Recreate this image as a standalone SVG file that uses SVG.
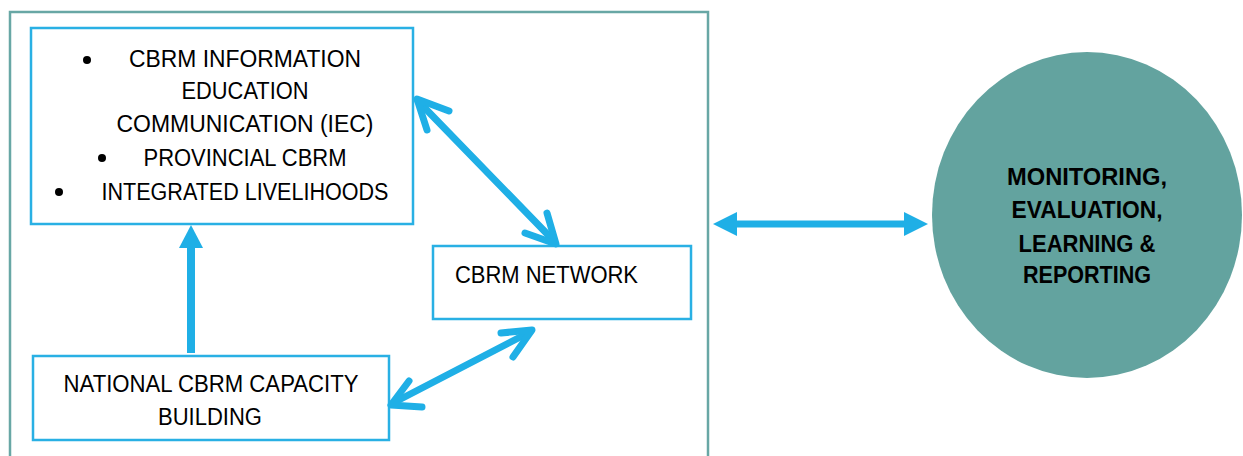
<svg xmlns="http://www.w3.org/2000/svg" width="1243" height="456" viewBox="0 0 1243 456">
<style>
.box{fill:#fff;stroke:#29b0e4;stroke-width:2.5}
.t{font-family:"Liberation Sans",Arial,sans-serif;font-size:23px;fill:#000}
.b{font-family:"Liberation Sans",Arial,sans-serif;font-size:23px;font-weight:bold;fill:#000;text-anchor:middle}
.ln{stroke:#1fafe6;stroke-width:7;fill:none;stroke-linecap:round;stroke-linejoin:round}
.fl{fill:#1fafe6}
</style>
<rect width="1243" height="456" fill="#fff"/>
<rect id="frame" x="10" y="12" width="698" height="460" fill="none" stroke="#68a7a5" stroke-width="2.5"/>
<g id="node-iec">
<rect class="box" x="31" y="28" width="382" height="196"/>
<circle cx="87" cy="60" r="4"/>
<circle cx="102" cy="158" r="4"/>
<circle cx="59" cy="192" r="4"/>
<text class="t" x="245" y="67" text-anchor="middle" textLength="232" lengthAdjust="spacingAndGlyphs">CBRM INFORMATION</text>
<text class="t" x="245" y="99" text-anchor="middle" textLength="127" lengthAdjust="spacingAndGlyphs">EDUCATION</text>
<text class="t" x="245" y="132" text-anchor="middle" textLength="257" lengthAdjust="spacingAndGlyphs">COMMUNICATION (IEC)</text>
<text class="t" x="245" y="166" text-anchor="middle" textLength="203" lengthAdjust="spacingAndGlyphs">PROVINCIAL CBRM</text>
<text class="t" x="245" y="200" text-anchor="middle" textLength="287" lengthAdjust="spacingAndGlyphs">INTEGRATED LIVELIHOODS</text>
</g>
<g id="node-network">
<rect class="box" x="433" y="246" width="258" height="73"/>
<text class="t" x="455" y="283" textLength="183" lengthAdjust="spacingAndGlyphs">CBRM NETWORK</text>
</g>
<g id="node-national">
<rect class="box" x="33" y="356" width="356" height="84"/>
<text class="t" x="211" y="392" text-anchor="middle" textLength="295" lengthAdjust="spacingAndGlyphs">NATIONAL CBRM CAPACITY</text>
<text class="t" x="210" y="425" text-anchor="middle" textLength="104" lengthAdjust="spacingAndGlyphs">BUILDING</text>
</g>
<g id="node-mel">
<ellipse cx="1087" cy="215" rx="155" ry="163" fill="#63a39f"/>
<text class="b" x="1087" y="185" textLength="160" lengthAdjust="spacingAndGlyphs">MONITORING,</text>
<text class="b" x="1087" y="218" textLength="151" lengthAdjust="spacingAndGlyphs">EVALUATION,</text>
<text class="b" x="1087" y="252" textLength="137" lengthAdjust="spacingAndGlyphs">LEARNING &amp;</text>
<text class="b" x="1087" y="283" textLength="128" lengthAdjust="spacingAndGlyphs">REPORTING</text>
</g>
<g id="connectors">
<line x1="191" y1="353" x2="191" y2="246" stroke="#1fafe6" stroke-width="8"/>
<polygon class="fl" points="191,225 203,248 179,248"/>
<line class="ln" x1="418" y1="101" x2="554" y2="241"/>
<polyline class="ln" points="449,111 417,99 427,130"/>
<polyline class="ln" points="547,213 556,244 525,233"/>
<line class="ln" x1="393" y1="403" x2="530" y2="332"/>
<polyline class="ln" points="409,381 391,405 422,407"/>
<polyline class="ln" points="501,333 532,330 513,357"/>
<line x1="730" y1="224" x2="910" y2="224" stroke="#1fafe6" stroke-width="7"/>
<polygon class="fl" points="713,224 737,212 737,236"/>
<polygon class="fl" points="928,224 904,212 904,236"/>
</g>
</svg>
